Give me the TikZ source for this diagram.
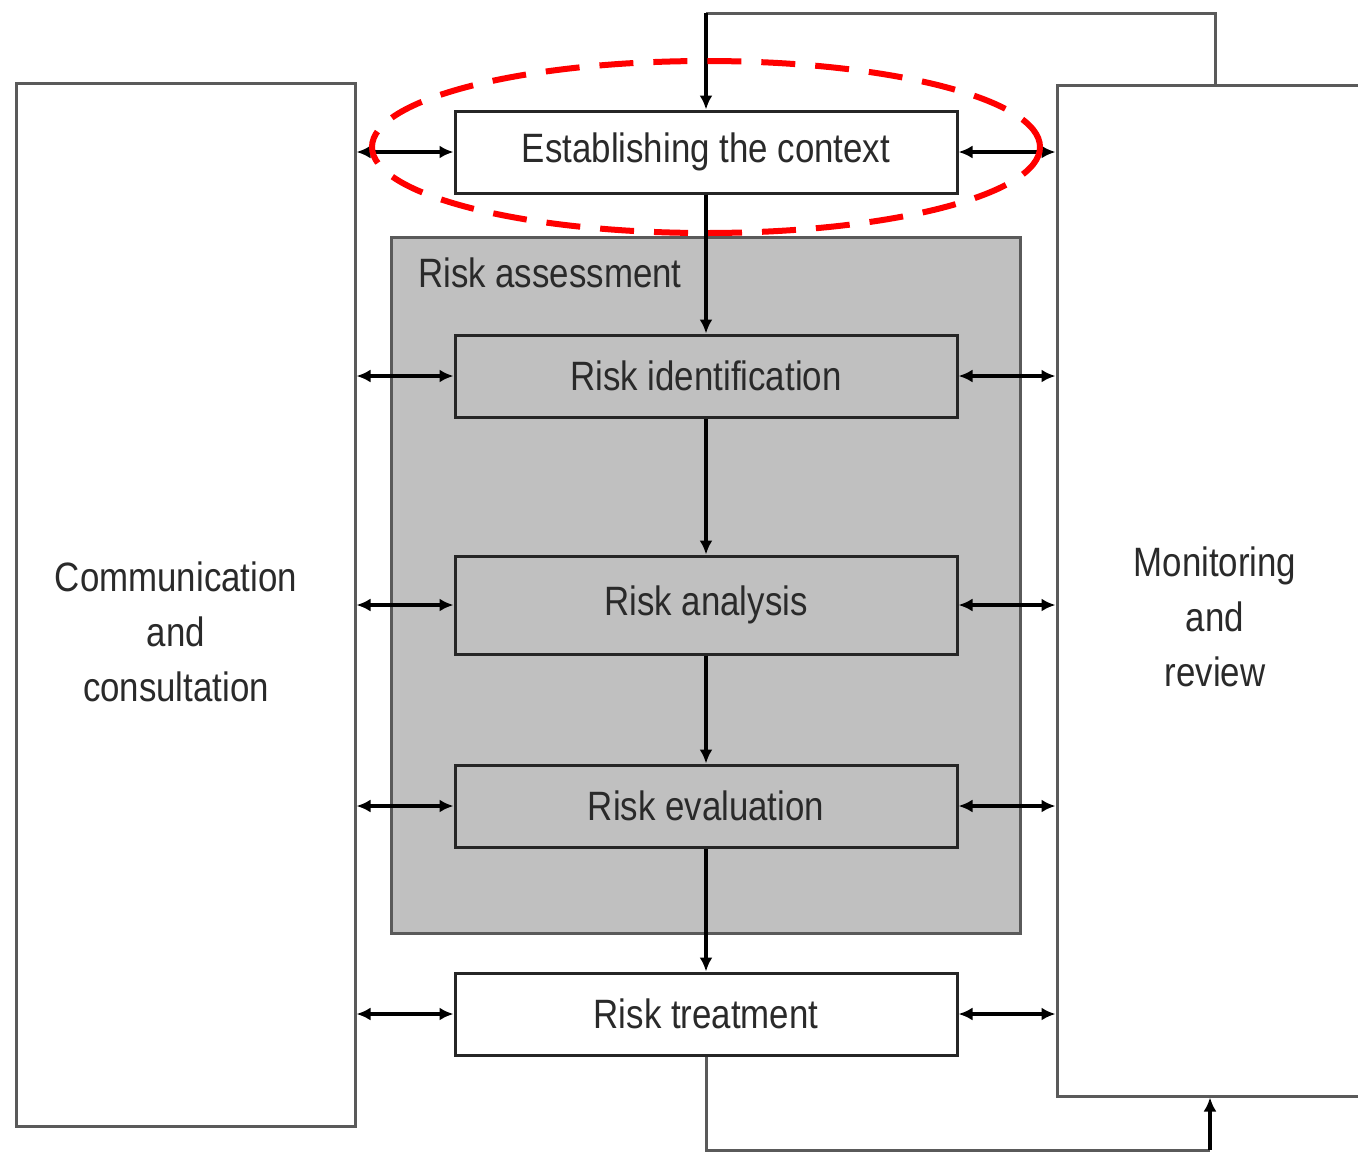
\documentclass[tikz,border=0pt]{standalone}
\usepackage{fontspec}
\setmainfont{Liberation Sans}[FakeStretch=0.85]
\usetikzlibrary{arrows.meta,shapes.geometric}
\definecolor{boxline}{HTML}{5A5A5A}
\definecolor{txt}{HTML}{2A2A2A}
\definecolor{assess}{HTML}{C0C0C0}
\tikzset{
  bigfont/.style={font=\fontsize{41}{55}\selectfont, text=txt},
  sidebox/.style={draw=boxline, line width=3pt, fill=white, inner sep=0pt},
  stepbox/.style={draw=black!85, line width=3pt, inner sep=0pt,
    minimum width=502pt, minimum height=82pt, bigfont},
  flow/.style={draw=black, line width=3.5pt, -{Latex[length=14pt,width=13pt]}},
  dflow/.style={draw=black, line width=3.5pt, {Latex[length=14pt,width=13pt]}-{Latex[length=14pt,width=13pt]}},
  loop/.style={draw=boxline, line width=3pt}
}
\begin{document}
\begin{tikzpicture}[x=1pt,y=-1pt]
\clip (0,0) rectangle (1358,1152);
\fill[white] (0,0) rectangle (1358,1152);
% side boxes
\node[sidebox, minimum width=339pt, minimum height=1043pt] (comm) at (185.5,604.5) {};
\node[bigfont, align=center] (commtext) at (176,632) {Communication\\and\\consultation};
\node[sidebox, minimum width=323pt, minimum height=1011pt] (mon) at (1218.5,590.5) {};
\node[bigfont, align=center] (montext) at (1215,617) {Monitoring\\and\\review};
% risk assessment frame
\node[draw=boxline, line width=3pt, fill=assess, minimum width=629pt, minimum height=696pt] (assess) at (705.5,585) {};
\node[bigfont, anchor=west, inner sep=0pt] (assesstext) at (418,273) {Risk assessment};
% process steps
\node[stepbox, fill=white] (ctx) at (706,152) {Establishing the context};
\node[stepbox, fill=assess] (ident) at (706,376) {Risk identification};
\node[stepbox, fill=assess, minimum height=98pt] (anal) at (706,605) {Risk analysis};
\node[stepbox, fill=assess] (eval) at (706,806) {Risk evaluation};
\node[stepbox, fill=white] (trt) at (706,1014) {Risk treatment};
% main flow
\draw[flow] (ctx) -- (ident);
\draw[flow] (ident) -- (anal);
\draw[flow] (anal) -- (eval);
\draw[flow] (eval) -- (trt);
\foreach \n in {ctx,ident,anal,eval,trt}{
  \draw[dflow] (comm.east |- \n.west) -- (\n.west);
  \draw[dflow] (\n.east) -- (mon.west |- \n.east);
}
% feedback loops
\coordinate (looptop) at (1215,13);
\coordinate (loopbot) at (1210,1150);
\draw[loop] (mon.north -| looptop) |- (ctx.north |- looptop);
\draw[flow] (ctx.north |- looptop) -- (ctx.north);
\draw[loop] (trt.south) |- (loopbot);
\draw[flow] (loopbot) -- (mon.south -| loopbot);
% highlight
\node[draw=red, dash pattern=on 34pt off 20pt, line width=6pt, ellipse,
  minimum width=668pt, minimum height=172pt] (ring) at (706,147) {};
\end{tikzpicture}
\end{document}
